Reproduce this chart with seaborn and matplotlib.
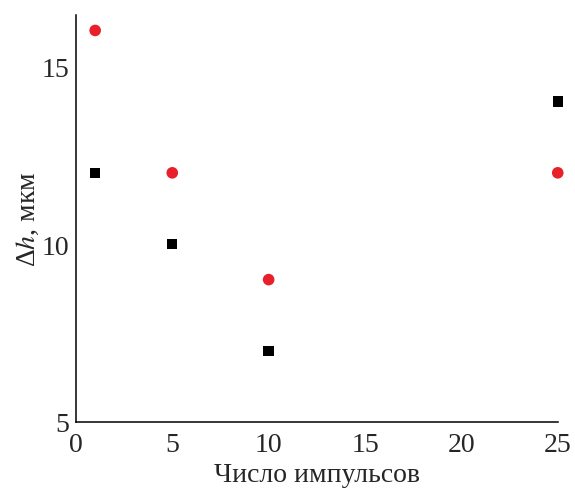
import matplotlib
matplotlib.use("Agg")
import matplotlib.pyplot as plt
import seaborn as sns
import pandas as pd

pulses = [1, 5, 10, 25]
series_black = [12, 10, 7, 14]
series_red = [16, 12, 9, 12]
x_ticks = [0, 5, 10, 15, 20, 25]
y_ticks = [5, 10, 15]

sns.set_theme(style="white")
plt.rcParams['font.family'] = ['Liberation Serif', 'DejaVu Serif']
plt.rcParams['mathtext.fontset'] = 'stix'

df = pd.DataFrame({
    "x": pulses * 2,
    "y": series_black + series_red,
    "s": ["black"] * len(pulses) + ["red"] * len(pulses),
})

fig = plt.figure(figsize=(5.75, 4.89), dpi=100)
ax = fig.add_axes([0.132, 0.135, 0.838, 0.832])

sns.scatterplot(data=df[df.s == "black"], x="x", y="y", marker="s", color="black",
                s=55, edgecolor="none", ax=ax, legend=False, clip_on=False)
sns.scatterplot(data=df[df.s == "red"], x="x", y="y", marker="o", color="#e8202a",
                s=70, edgecolor="none", ax=ax, legend=False, clip_on=False)

ax.set_xlim(0, 25)
ax.set_ylim(5, 16.43)
ax.set_xticks(x_ticks)
ax.set_yticks(y_ticks)
ax.set_xticklabels([str(t) for t in x_ticks], fontsize=20)
ax.set_yticklabels([str(t) for t in y_ticks], fontsize=20)
ax.tick_params(axis="x", direction="in", length=6, width=1.1, color="black", pad=7)
ax.tick_params(axis="y", direction="in", length=6, width=1.1, color="black", pad=5)
for side in ["top", "right"]:
    ax.spines[side].set_visible(False)
for side in ["left", "bottom"]:
    ax.spines[side].set_color("black")
    ax.spines[side].set_linewidth(1.1)
ax.set_xlabel("Число импульсов", fontsize=20, labelpad=4)
ax.set_ylabel("Δ$h$, мкм", fontsize=20, labelpad=0)

fig.savefig("out.png", dpi=100)
